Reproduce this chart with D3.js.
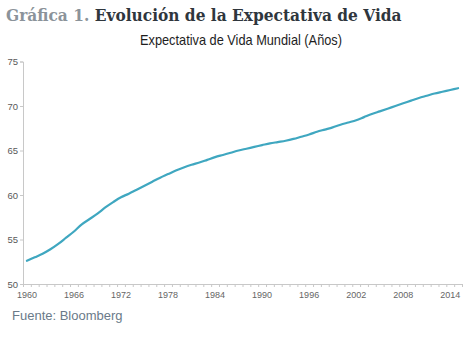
<!DOCTYPE html>
<html>
<head>
<meta charset="utf-8">
<script src="https://cdn.jsdelivr.net/npm/d3@7"></script>
<style>
  body { margin: 0; background: #fff; }
</style>
</head>
<body>
<script>

// years shown on the category axis
var years = d3.range(1960, 2016);

// world life expectancy per year
var lifeExp = [52.6, 53.0, 53.4, 53.9, 54.5, 55.2, 55.9, 56.7, 57.3, 57.9,
               58.6, 59.2, 59.75, 60.15, 60.6, 61.05, 61.5, 61.95, 62.35, 62.75,
               63.1, 63.4, 63.65, 63.95, 64.25, 64.5, 64.75, 65.0, 65.2, 65.4,
               65.6, 65.8, 65.95, 66.1, 66.3, 66.55, 66.8, 67.1, 67.35, 67.6,
               67.9, 68.15, 68.4, 68.75, 69.1, 69.4, 69.7, 70.0, 70.3, 70.6,
               70.9, 71.15, 71.4, 71.6, 71.8, 72.0];

// tick labels
var yTicks = [50, 55, 60, 65, 70, 75];
var xLabels = [1960, 1966, 1972, 1978, 1984, 1990, 1996, 2002, 2008, 2014];

var data = years.map(function(d, i) {
  return {year: d, value: lifeExp[i]};
});

var width = 470, height = 343;

var svg = d3.select("body")
  .append("svg")
  .attr("width", width)
  .attr("height", height);

// chart title, two colours
var title = svg.append("text")
  .attr("x", 6)
  .attr("y", 21)
  .attr("font-family", "DejaVu Serif")
  .attr("font-weight", "bold")
  .attr("font-size", "16px");
title.append("tspan").attr("fill", "#8b939a").text("Gráfica 1. ");
title.append("tspan").attr("fill", "#2f363d").text("Evolución de la Expectativa de Vida");

// squeeze title to the width in the picture
var tw = title.node().getComputedTextLength();
title.attr("transform", "translate(6,0) scale(" + (396 / tw) + ",1) translate(-6,0)");

// subtitle
var sub = svg.append("text")
  .attr("x", 241)
  .attr("y", 45)
  .attr("text-anchor", "middle")
  .attr("font-family", "Liberation Sans, Arial, sans-serif")
  .attr("font-size", "14.5px")
  .attr("fill", "#1e1e1e")
  .text("Expectativa de Vida Mundial (Años)");
var sw = sub.node().getComputedTextLength();
sub.attr("transform", "translate(241,0) scale(" + (202 / sw) + ",1) translate(-241,0)");

// scales
var x = d3.scaleBand()
  .domain(years)
  .range([23, 462])
  .paddingInner(0)
  .paddingOuter(0);

var xEdge = d3.scaleLinear()
  .domain([0, years.length])
  .range([23, 462]);

var y = d3.scaleLinear()
  .domain([50, 75])
  .range([284, 61.5]);

// y axis
var yAxis = svg.append("g")
  .attr("transform", "translate(23,0)")
  .call(d3.axisLeft(y).tickValues(yTicks).tickSize(3).tickPadding(2));
yAxis.select(".domain").attr("stroke", "#c8c8c8");
yAxis.selectAll(".tick line").attr("stroke", "#c8c8c8");
yAxis.selectAll("text")
  .attr("font-family", "Liberation Sans, Arial, sans-serif")
  .attr("font-size", "9.5px")
  .attr("fill", "#595959");

// x axis tick marks between categories
var xTickAxis = svg.append("g")
  .attr("transform", "translate(0,284)")
  .call(d3.axisBottom(xEdge).tickValues(d3.range(years.length + 1)).tickFormat("").tickSizeInner(3).tickSizeOuter(0));
xTickAxis.select(".domain").attr("stroke", "#c8c8c8");
xTickAxis.selectAll(".tick line").attr("stroke", "#c8c8c8");

// x axis labels
var xAxis = svg.append("g")
  .attr("transform", "translate(0,284)")
  .call(d3.axisBottom(x).tickValues(xLabels).tickSize(0).tickPadding(8));
xAxis.select(".domain").remove();
xAxis.selectAll("text")
  .attr("font-family", "Liberation Sans, Arial, sans-serif")
  .attr("font-size", "9px")
  .attr("fill", "#666666");

// the line
var line = d3.line()
  .x(function(d) { return x(d.year) + x.bandwidth() / 2; })
  .y(function(d) { return y(d.value); })
  .curve(d3.curveMonotoneX);

svg.append("path")
  .datum(data)
  .attr("fill", "none")
  .attr("stroke", "#3fa7c0")
  .attr("stroke-width", 2.2)
  .attr("stroke-linejoin", "round")
  .attr("stroke-linecap", "round")
  .attr("d", line);

// source
svg.append("text")
  .attr("x", 12)
  .attr("y", 320)
  .attr("font-family", "Liberation Sans, Arial, sans-serif")
  .attr("font-size", "13px")
  .attr("fill", "#6a7a89")
  .text("Fuente: Bloomberg");

</script>
</body>
</html>
